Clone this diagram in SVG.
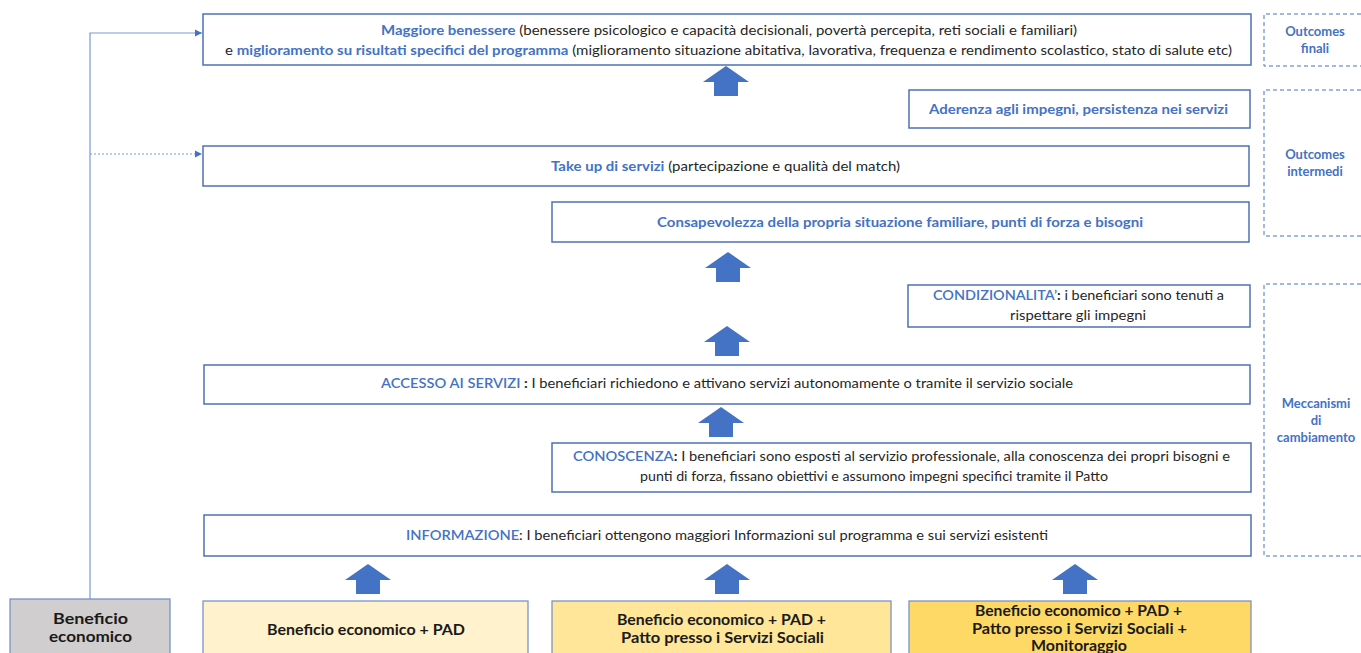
<svg xmlns="http://www.w3.org/2000/svg" width="1361" height="653" viewBox="0 0 1361 653">
<defs>
<style>
.box{fill:#ffffff;stroke:#4f71b5;stroke-width:1.5}
.dash{fill:none;stroke:#4472c4;stroke-width:1;stroke-dasharray:4 3}
.t{font-family:Lato,"Open Sans","Liberation Sans",sans-serif;font-size:14px;fill:#262626}
.b{font-weight:700;fill:#4472c4}
.c{font-weight:600;fill:#4472c4}
.k{font-weight:700;fill:#262626}
.lab{font-family:Lato,"Open Sans","Liberation Sans",sans-serif;font-size:13px;font-weight:700;fill:#4472c4;text-anchor:middle}
.bt{font-family:Lato,"Open Sans","Liberation Sans",sans-serif;font-size:15.5px;font-weight:700;fill:#1a1a1a}
.arr{fill:#4472c4}
.conn{fill:none;stroke:#7b9bd6;stroke-width:1.2}
.bbox{stroke:#6f8cc4;stroke-width:1.2}
</style>
<marker id="ah" markerWidth="8" markerHeight="8" refX="7" refY="4" orient="auto" markerUnits="userSpaceOnUse">
<path d="M0,0.5 L7,4 L0,7.5 Z" fill="#4472c4"/>
</marker>
<path id="uparrow" d="M0,0 L23,16 L12,16 L12,30 L-12,30 L-12,16 L-23,16 Z"/>
</defs>

<g id="connectors">
<path class="conn" d="M90,599 L90,33 L202,33" marker-end="url(#ah)"/>
<path class="conn" d="M90,154 L202,154" stroke-dasharray="2 2" marker-end="url(#ah)"/>
<use href="#uparrow" class="arr" x="726" y="66"/>
<use href="#uparrow" class="arr" x="728" y="252"/>
<use href="#uparrow" class="arr" x="727" y="326"/>
<use href="#uparrow" class="arr" x="721" y="407"/>
<use href="#uparrow" class="arr" x="368" y="564"/>
<use href="#uparrow" class="arr" x="727" y="564"/>
<use href="#uparrow" class="arr" x="1075" y="564"/>
</g>

<g id="node-benessere">
<rect class="box" x="203" y="14" width="1048" height="51"/>
<text class="t" x="381" y="35" textLength="696" lengthAdjust="spacingAndGlyphs"><tspan class="b">Maggiore benessere</tspan> (benessere psicologico e capacità decisionali, povertà percepita, reti sociali e familiari)</text>
<text class="t" x="225" y="55" textLength="1007" lengthAdjust="spacingAndGlyphs">e <tspan class="b">miglioramento su risultati specifici del programma</tspan> (miglioramento situazione abitativa, lavorativa, frequenza e rendimento scolastico, stato di salute etc)</text>
</g>

<g id="node-aderenza">
<rect class="box" x="909" y="90" width="341" height="38"/>
<text class="t" x="929" y="114" textLength="299" lengthAdjust="spacingAndGlyphs"><tspan class="b">Aderenza agli impegni, persistenza nei servizi</tspan></text>
</g>

<g id="node-takeup">
<rect class="box" x="203" y="146" width="1046" height="40"/>
<text class="t" x="551" y="171" textLength="349" lengthAdjust="spacingAndGlyphs"><tspan class="b">Take up di servizi</tspan> (partecipazione  e qualità del match)</text>
</g>

<g id="node-consapevolezza">
<rect class="box" x="552" y="202" width="697" height="40"/>
<text class="t" x="657" y="227" textLength="486" lengthAdjust="spacingAndGlyphs"><tspan class="b">Consapevolezza della propria situazione familiare, punti di forza e bisogni</tspan></text>
</g>

<g id="node-condizionalita">
<rect class="box" x="908" y="285" width="342" height="42"/>
<text class="t" x="933" y="300" textLength="291" lengthAdjust="spacingAndGlyphs"><tspan class="c">CONDIZIONALITA’</tspan><tspan class="k">:</tspan> i beneficiari sono tenuti a</text>
<text class="t" x="1010" y="320" textLength="136" lengthAdjust="spacingAndGlyphs">rispettare gli impegni</text>
</g>

<g id="node-accesso">
<rect class="box" x="204" y="365" width="1046" height="39"/>
<text class="t" x="381" y="388" textLength="692" lengthAdjust="spacingAndGlyphs"><tspan class="c">ACCESSO AI SERVIZI</tspan><tspan class="k"> :</tspan> I beneficiari  richiedono  e attivano servizi autonomamente o tramite il servizio sociale</text>
</g>

<g id="node-conoscenza">
<rect class="box" x="552" y="443" width="699" height="49"/>
<text class="t" x="573" y="461" textLength="657" lengthAdjust="spacingAndGlyphs"><tspan class="c">CONOSCENZA</tspan><tspan class="k">:</tspan> I beneficiari  sono esposti al servizio professionale, alla conoscenza dei propri bisogni e</text>
<text class="t" x="640" y="481" textLength="468" lengthAdjust="spacingAndGlyphs">punti di forza, fissano obiettivi e assumono impegni specifici  tramite il Patto</text>
</g>

<g id="node-informazione">
<rect class="box" x="204" y="515" width="1047" height="41"/>
<text class="t" x="406" y="540" textLength="642" lengthAdjust="spacingAndGlyphs"><tspan class="c">INFORMAZIONE</tspan>: I beneficiari ottengono maggiori Informazioni sul programma e sui servizi esistenti</text>
</g>

<g id="label-finali">
<path class="dash" d="M1361,14 L1264,14 L1264,66 L1361,66"/>
<text class="lab" x="1315" y="36">Outcomes</text>
<text class="lab" x="1315" y="53">finali</text>
</g>

<g id="label-intermedi">
<path class="dash" d="M1361,90 L1264,90 L1264,236 L1361,236"/>
<text class="lab" x="1315" y="159">Outcomes</text>
<text class="lab" x="1315" y="176">intermedi</text>
</g>

<g id="label-meccanismi">
<path class="dash" d="M1361,284 L1264,284 L1264,556 L1361,556"/>
<text class="lab" x="1316" y="408">Meccanismi</text>
<text class="lab" x="1316" y="425">di</text>
<text class="lab" x="1316" y="442">cambiamento</text>
</g>

<g id="node-beneficio">
<rect class="bbox" x="10" y="599" width="160" height="60" fill="#d0cece"/>
<text class="bt" x="53" y="624" textLength="75" lengthAdjust="spacingAndGlyphs">Beneficio</text>
<text class="bt" x="49" y="642" textLength="83" lengthAdjust="spacingAndGlyphs">economico</text>
</g>

<g id="node-pad">
<rect class="bbox" x="203" y="601" width="325" height="60" fill="#fff2cc"/>
<text class="bt" x="267" y="635" textLength="198" lengthAdjust="spacingAndGlyphs">Beneficio economico + PAD</text>
</g>

<g id="node-patto">
<rect class="bbox" x="552" y="601" width="339" height="60" fill="#ffe699"/>
<text class="bt" x="617" y="625" textLength="209" lengthAdjust="spacingAndGlyphs">Beneficio economico + PAD +</text>
<text class="bt" x="621" y="643" textLength="203" lengthAdjust="spacingAndGlyphs">Patto presso  i Servizi Sociali</text>
</g>

<g id="node-monitoraggio">
<rect class="bbox" x="909" y="601" width="342" height="60" fill="#ffd966"/>
<text class="bt" x="975" y="616" textLength="207" lengthAdjust="spacingAndGlyphs">Beneficio economico + PAD +</text>
<text class="bt" x="972" y="634" textLength="215" lengthAdjust="spacingAndGlyphs">Patto presso  i Servizi Sociali +</text>
<text class="bt" x="1031" y="651" textLength="96" lengthAdjust="spacingAndGlyphs">Monitoraggio</text>
</g>
</svg>
